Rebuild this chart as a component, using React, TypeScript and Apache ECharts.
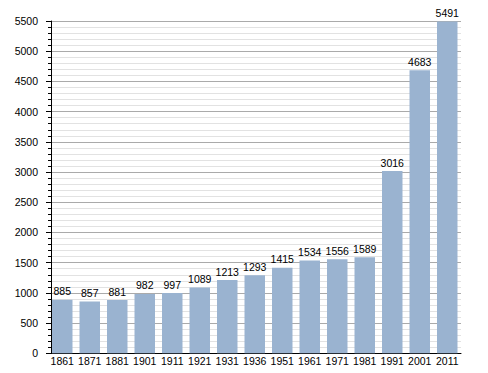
import React, { useEffect, useRef } from "react";
import * as echarts from "echarts";

const years = ["1861", "1871", "1881", "1901", "1911", "1921", "1931", "1936", "1951", "1961", "1971", "1981", "1991", "2001", "2011"];
const population = [885, 857, 881, 982, 997, 1089, 1213, 1293, 1415, 1534, 1556, 1589, 3016, 4683, 5491];
const yMin = 0;
const yMax = 5500;
const yStep = 500;

export default function App() {
  const ref = useRef<HTMLDivElement>(null);
  useEffect(() => {
    document.body.style.margin = "0";
    const chart = echarts.init(ref.current!, null, { renderer: "svg" });
    const font = "Liberation Sans, Arial, sans-serif";
    chart.setOption({
      animation: false,
      backgroundColor: "#ffffff",
      grid: { left: 48.5, right: 27, top: 21, bottom: 19.7, containLabel: false },
      xAxis: {
        type: "category",
        data: years,
        axisLine: { show: true, lineStyle: { color: "#000", width: 1 } },
        axisTick: { show: false },
        axisLabel: { color: "#000", fontSize: 10.5, fontFamily: font, margin: 2.5, interval: 0 },
        splitLine: { show: false },
      },
      yAxis: {
        type: "value",
        min: yMin,
        max: yMax,
        interval: yStep,
        offset: -2.5,
        axisLine: { show: true, lineStyle: { color: "#000", width: 1 } },
        axisTick: { show: true, length: 5, lineStyle: { color: "#000" } },
        minorTick: { show: true, splitNumber: 5, length: 3, lineStyle: { color: "#000" } },
        axisLabel: {
          color: "#000",
          fontSize: 10.5,
          fontFamily: font,
          margin: 13,
          formatter: (v: number) => String(v),
        },
        splitLine: { show: true, lineStyle: { color: "#aaaaaa", width: 1 } },
        minorSplitLine: { show: true, lineStyle: { color: "#e2e2e2", width: 1 } },
      },
      series: [
        {
          type: "bar",
          data: population,
          barCategoryGap: "25.5%",
          itemStyle: { color: "#9ab3d0" },
          label: {
            show: true,
            position: "top",
            distance: 3,
            color: "#000",
            fontSize: 10.5,
            fontFamily: font,
          },
        },
      ],
    });
    return () => chart.dispose();
  }, []);
  return <div ref={ref} style={{ width: 488, height: 373 }} />;
}
